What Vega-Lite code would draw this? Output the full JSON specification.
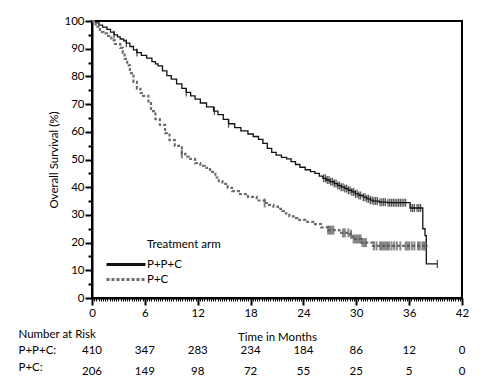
{
  "$schema": "https://vega.github.io/schema/vega-lite/v6.json",
  "background": "white",
  "padding": {"left": 18, "top": 14, "right": 5, "bottom": 0},
  "spacing": 36,
  "bounds": "flush",
  "config": {
    "font": "Lato",
    "view": {"stroke": null},
    "axis": {"labelColor": "black", "titleColor": "black", "labelFontSize": 11.5, "titleFontSize": 11.5, "titleFontWeight": "normal", "grid": false, "labelOverlap": false, "labelFlush": false, "labelFont": "Lato", "titleFont": "Lato"},
    "legend": {"labelColor": "black", "titleColor": "black"}
  },
  "datasets": {
    "curve": [
      {"arm": "P+P+C", "month": 0, "surv": 100}, {"arm": "P+P+C", "month": 0.4, "surv": 99.3}, {"arm": "P+P+C", "month": 0.8, "surv": 98.5}, {"arm": "P+P+C", "month": 1.2, "surv": 97.8}, {"arm": "P+P+C", "month": 1.7, "surv": 97}, {"arm": "P+P+C", "month": 2.1, "surv": 96}, {"arm": "P+P+C", "month": 2.5, "surv": 95}, {"arm": "P+P+C", "month": 2.9, "surv": 94.3}, {"arm": "P+P+C", "month": 3.2, "surv": 93.5}, {"arm": "P+P+C", "month": 3.6, "surv": 92.8}, {"arm": "P+P+C", "month": 3.9, "surv": 92}, {"arm": "P+P+C", "month": 4.3, "surv": 90.8}, {"arm": "P+P+C", "month": 4.7, "surv": 89.6}, {"arm": "P+P+C", "month": 5.1, "surv": 88.6}, {"arm": "P+P+C", "month": 5.6, "surv": 87.6}, {"arm": "P+P+C", "month": 6.2, "surv": 86.6}, {"arm": "P+P+C", "month": 6.8, "surv": 85.3}, {"arm": "P+P+C", "month": 7.2, "surv": 84.5}, {"arm": "P+P+C", "month": 7.5, "surv": 83.8}, {"arm": "P+P+C", "month": 8.0, "surv": 82}, {"arm": "P+P+C", "month": 8.5, "surv": 80.3}, {"arm": "P+P+C", "month": 9.0, "surv": 79}, {"arm": "P+P+C", "month": 9.6, "surv": 77.3}, {"arm": "P+P+C", "month": 10.2, "surv": 75.7}, {"arm": "P+P+C", "month": 10.7, "surv": 74.2}, {"arm": "P+P+C", "month": 11.2, "surv": 73}, {"arm": "P+P+C", "month": 11.7, "surv": 71.8}, {"arm": "P+P+C", "month": 12.3, "surv": 70.4}, {"arm": "P+P+C", "month": 13.0, "surv": 69}, {"arm": "P+P+C", "month": 13.8, "surv": 67.5}, {"arm": "P+P+C", "month": 14.3, "surv": 66.2}, {"arm": "P+P+C", "month": 14.9, "surv": 64.5}, {"arm": "P+P+C", "month": 15.5, "surv": 62.9}, {"arm": "P+P+C", "month": 16.2, "surv": 61.5}, {"arm": "P+P+C", "month": 16.9, "surv": 60.3}, {"arm": "P+P+C", "month": 17.7, "surv": 59.2}, {"arm": "P+P+C", "month": 18.3, "surv": 58.3}, {"arm": "P+P+C", "month": 18.9, "surv": 57.3}, {"arm": "P+P+C", "month": 19.4, "surv": 55.8}, {"arm": "P+P+C", "month": 19.9, "surv": 54}, {"arm": "P+P+C", "month": 20.4, "surv": 52.6}, {"arm": "P+P+C", "month": 20.9, "surv": 51.6}, {"arm": "P+P+C", "month": 21.5, "surv": 50.8}, {"arm": "P+P+C", "month": 22.1, "surv": 50.2}, {"arm": "P+P+C", "month": 22.6, "surv": 49.2}, {"arm": "P+P+C", "month": 23.1, "surv": 48.2}, {"arm": "P+P+C", "month": 23.6, "surv": 47.2}, {"arm": "P+P+C", "month": 24.2, "surv": 46.3}, {"arm": "P+P+C", "month": 24.8, "surv": 45.6}, {"arm": "P+P+C", "month": 25.3, "surv": 45}, {"arm": "P+P+C", "month": 25.8, "surv": 44}, {"arm": "P+P+C", "month": 26.2, "surv": 43.2}, {"arm": "P+P+C", "month": 26.6, "surv": 42.6}, {"arm": "P+P+C", "month": 27.0, "surv": 42}, {"arm": "P+P+C", "month": 27.5, "surv": 41.3}, {"arm": "P+P+C", "month": 27.9, "surv": 40.6}, {"arm": "P+P+C", "month": 28.3, "surv": 40}, {"arm": "P+P+C", "month": 28.7, "surv": 39.5}, {"arm": "P+P+C", "month": 29.1, "surv": 38.9}, {"arm": "P+P+C", "month": 29.5, "surv": 38.3}, {"arm": "P+P+C", "month": 29.9, "surv": 37.6}, {"arm": "P+P+C", "month": 30.3, "surv": 37}, {"arm": "P+P+C", "month": 30.8, "surv": 36.4}, {"arm": "P+P+C", "month": 31.2, "surv": 35.8}, {"arm": "P+P+C", "month": 31.6, "surv": 35.3}, {"arm": "P+P+C", "month": 31.9, "surv": 35}, {"arm": "P+P+C", "month": 32.6, "surv": 34.6}, {"arm": "P+P+C", "month": 33.5, "surv": 34.4}, {"arm": "P+P+C", "month": 36.1, "surv": 32.5}, {"arm": "P+P+C", "month": 37.55, "surv": 25}, {"arm": "P+P+C", "month": 37.8, "surv": 22.5}, {"arm": "P+P+C", "month": 37.95, "surv": 12.3}, {"arm": "P+P+C", "month": 39.2, "surv": 12.3},
      {"arm": "P+C", "month": 0, "surv": 100}, {"arm": "P+C", "month": 0.4, "surv": 98}, {"arm": "P+C", "month": 0.9, "surv": 96}, {"arm": "P+C", "month": 1.3, "surv": 95.5}, {"arm": "P+C", "month": 1.7, "surv": 94.6}, {"arm": "P+C", "month": 2.2, "surv": 93}, {"arm": "P+C", "month": 2.6, "surv": 91.7}, {"arm": "P+C", "month": 3.2, "surv": 90.3}, {"arm": "P+C", "month": 3.5, "surv": 88.5}, {"arm": "P+C", "month": 3.7, "surv": 86.3}, {"arm": "P+C", "month": 4.0, "surv": 84}, {"arm": "P+C", "month": 4.3, "surv": 81.2}, {"arm": "P+C", "month": 4.7, "surv": 78}, {"arm": "P+C", "month": 5.1, "surv": 75.5}, {"arm": "P+C", "month": 5.5, "surv": 74}, {"arm": "P+C", "month": 5.8, "surv": 73}, {"arm": "P+C", "month": 6.4, "surv": 71}, {"arm": "P+C", "month": 6.7, "surv": 67.5}, {"arm": "P+C", "month": 7.2, "surv": 64.6}, {"arm": "P+C", "month": 7.7, "surv": 62.5}, {"arm": "P+C", "month": 8.3, "surv": 59.5}, {"arm": "P+C", "month": 8.8, "surv": 57}, {"arm": "P+C", "month": 9.4, "surv": 54.9}, {"arm": "P+C", "month": 10.2, "surv": 52}, {"arm": "P+C", "month": 10.6, "surv": 51}, {"arm": "P+C", "month": 11.0, "surv": 50.2}, {"arm": "P+C", "month": 11.7, "surv": 48.7}, {"arm": "P+C", "month": 12.3, "surv": 47.7}, {"arm": "P+C", "month": 12.8, "surv": 47}, {"arm": "P+C", "month": 13.4, "surv": 45.5}, {"arm": "P+C", "month": 14.0, "surv": 43.5}, {"arm": "P+C", "month": 14.4, "surv": 42.2}, {"arm": "P+C", "month": 14.8, "surv": 41.2}, {"arm": "P+C", "month": 15.4, "surv": 39.8}, {"arm": "P+C", "month": 15.9, "surv": 38.6}, {"arm": "P+C", "month": 16.8, "surv": 37.5}, {"arm": "P+C", "month": 17.7, "surv": 36.5}, {"arm": "P+C", "month": 18.7, "surv": 35.2}, {"arm": "P+C", "month": 19.6, "surv": 34.3}, {"arm": "P+C", "month": 20.1, "surv": 33.6}, {"arm": "P+C", "month": 20.6, "surv": 33}, {"arm": "P+C", "month": 21.1, "surv": 32.2}, {"arm": "P+C", "month": 21.6, "surv": 31.4}, {"arm": "P+C", "month": 22.0, "surv": 30.5}, {"arm": "P+C", "month": 22.4, "surv": 29.5}, {"arm": "P+C", "month": 22.9, "surv": 28.8}, {"arm": "P+C", "month": 23.3, "surv": 28.2}, {"arm": "P+C", "month": 24.2, "surv": 27.5}, {"arm": "P+C", "month": 25.1, "surv": 26.7}, {"arm": "P+C", "month": 26.0, "surv": 25.5}, {"arm": "P+C", "month": 26.8, "surv": 24.5}, {"arm": "P+C", "month": 28.1, "surv": 23.5}, {"arm": "P+C", "month": 29.3, "surv": 23}, {"arm": "P+C", "month": 29.6, "surv": 21.3}, {"arm": "P+C", "month": 30.6, "surv": 20}, {"arm": "P+C", "month": 31.9, "surv": 18.8}, {"arm": "P+C", "month": 38.1, "surv": 18.8}
    ],
    "censor": [
      {"arm": "P+P+C", "month": 2.5, "surv": 95}, {"arm": "P+P+C", "month": 3.9, "surv": 92}, {"arm": "P+P+C", "month": 5.1, "surv": 88.6}, {"arm": "P+P+C", "month": 10.7, "surv": 74.2}, {"arm": "P+P+C", "month": 13.9, "surv": 67.5}, {"arm": "P+P+C", "month": 15.5, "surv": 62.9},
      {"arm": "P+P+C", "month": 26.3, "surv": 43.2}, {"arm": "P+P+C", "month": 26.5, "surv": 43.2}, {"arm": "P+P+C", "month": 26.7, "surv": 42.6}, {"arm": "P+P+C", "month": 26.9, "surv": 42.6}, {"arm": "P+P+C", "month": 27.1, "surv": 42}, {"arm": "P+P+C", "month": 27.3, "surv": 42}, {"arm": "P+P+C", "month": 27.5, "surv": 41.3}, {"arm": "P+P+C", "month": 27.7, "surv": 41.3}, {"arm": "P+P+C", "month": 27.9, "surv": 40.6}, {"arm": "P+P+C", "month": 28.1, "surv": 40.6}, {"arm": "P+P+C", "month": 28.3, "surv": 40}, {"arm": "P+P+C", "month": 28.5, "surv": 40}, {"arm": "P+P+C", "month": 28.7, "surv": 39.5}, {"arm": "P+P+C", "month": 28.9, "surv": 39.5}, {"arm": "P+P+C", "month": 29.1, "surv": 38.9}, {"arm": "P+P+C", "month": 29.3, "surv": 38.9}, {"arm": "P+P+C", "month": 29.5, "surv": 38.3}, {"arm": "P+P+C", "month": 29.7, "surv": 38.3}, {"arm": "P+P+C", "month": 29.9, "surv": 37.6}, {"arm": "P+P+C", "month": 30.1, "surv": 37.6}, {"arm": "P+P+C", "month": 30.3, "surv": 37}, {"arm": "P+P+C", "month": 30.5, "surv": 37}, {"arm": "P+P+C", "month": 30.8, "surv": 36.4}, {"arm": "P+P+C", "month": 31.0, "surv": 36.4}, {"arm": "P+P+C", "month": 31.2, "surv": 35.8}, {"arm": "P+P+C", "month": 31.4, "surv": 35.8}, {"arm": "P+P+C", "month": 31.6, "surv": 35.3}, {"arm": "P+P+C", "month": 31.8, "surv": 35.3}, {"arm": "P+P+C", "month": 32.0, "surv": 35}, {"arm": "P+P+C", "month": 32.2, "surv": 35}, {"arm": "P+P+C", "month": 32.4, "surv": 35}, {"arm": "P+P+C", "month": 32.7, "surv": 34.6}, {"arm": "P+P+C", "month": 32.9, "surv": 34.6}, {"arm": "P+P+C", "month": 33.1, "surv": 34.6}, {"arm": "P+P+C", "month": 33.3, "surv": 34.6}, {"arm": "P+P+C", "month": 33.6, "surv": 34.4}, {"arm": "P+P+C", "month": 33.8, "surv": 34.4}, {"arm": "P+P+C", "month": 34.0, "surv": 34.4}, {"arm": "P+P+C", "month": 34.2, "surv": 34.4}, {"arm": "P+P+C", "month": 34.4, "surv": 34.4}, {"arm": "P+P+C", "month": 34.6, "surv": 34.4}, {"arm": "P+P+C", "month": 34.8, "surv": 34.4}, {"arm": "P+P+C", "month": 35.0, "surv": 34.4}, {"arm": "P+P+C", "month": 35.2, "surv": 34.4}, {"arm": "P+P+C", "month": 35.4, "surv": 34.4}, {"arm": "P+P+C", "month": 35.6, "surv": 34.4},
      {"arm": "P+P+C", "month": 36.2, "surv": 32.5}, {"arm": "P+P+C", "month": 36.4, "surv": 32.5}, {"arm": "P+P+C", "month": 36.6, "surv": 32.5}, {"arm": "P+P+C", "month": 36.9, "surv": 32.5}, {"arm": "P+P+C", "month": 37.1, "surv": 32.5}, {"arm": "P+P+C", "month": 37.3, "surv": 32.5}, {"arm": "P+P+C", "month": 39.2, "surv": 12.3},
      {"arm": "P+C", "month": 10.2, "surv": 52}, {"arm": "P+C", "month": 19.6, "surv": 34.3}, {"arm": "P+C", "month": 26.8, "surv": 24.5}, {"arm": "P+C", "month": 27.0, "surv": 24.5}, {"arm": "P+C", "month": 27.2, "surv": 24.5}, {"arm": "P+C", "month": 27.4, "surv": 24.5}, {"arm": "P+C", "month": 28.5, "surv": 23.5}, {"arm": "P+C", "month": 28.7, "surv": 23.5}, {"arm": "P+C", "month": 29.1, "surv": 23.5}, {"arm": "P+C", "month": 29.4, "surv": 23}, {"arm": "P+C", "month": 29.7, "surv": 21.3}, {"arm": "P+C", "month": 29.9, "surv": 21.3}, {"arm": "P+C", "month": 30.1, "surv": 21.3}, {"arm": "P+C", "month": 30.3, "surv": 21.3}, {"arm": "P+C", "month": 30.5, "surv": 21.3}, {"arm": "P+C", "month": 30.7, "surv": 20}, {"arm": "P+C", "month": 30.9, "surv": 20}, {"arm": "P+C", "month": 31.1, "surv": 20}, {"arm": "P+C", "month": 32.0, "surv": 18.8}, {"arm": "P+C", "month": 32.3, "surv": 18.8}, {"arm": "P+C", "month": 32.7, "surv": 18.8}, {"arm": "P+C", "month": 32.9, "surv": 18.8}, {"arm": "P+C", "month": 33.1, "surv": 18.8}, {"arm": "P+C", "month": 33.3, "surv": 18.8}, {"arm": "P+C", "month": 33.5, "surv": 18.8}, {"arm": "P+C", "month": 33.7, "surv": 18.8}, {"arm": "P+C", "month": 34.0, "surv": 18.8}, {"arm": "P+C", "month": 34.3, "surv": 18.8}, {"arm": "P+C", "month": 34.6, "surv": 18.8}, {"arm": "P+C", "month": 35.0, "surv": 18.8}, {"arm": "P+C", "month": 35.6, "surv": 18.8}, {"arm": "P+C", "month": 35.8, "surv": 18.8}, {"arm": "P+C", "month": 36.0, "surv": 18.8}, {"arm": "P+C", "month": 36.3, "surv": 18.8}, {"arm": "P+C", "month": 36.6, "surv": 18.8}, {"arm": "P+C", "month": 37.0, "surv": 18.8}, {"arm": "P+C", "month": 37.2, "surv": 18.8}, {"arm": "P+C", "month": 37.5, "surv": 18.8}, {"arm": "P+C", "month": 37.7, "surv": 18.8}, {"arm": "P+C", "month": 37.9, "surv": 18.8}
    ],
    "risk": [
      {"arm": "P+P+C", "month": 0, "n": 410}, {"arm": "P+P+C", "month": 6, "n": 347}, {"arm": "P+P+C", "month": 12, "n": 283}, {"arm": "P+P+C", "month": 18, "n": 234}, {"arm": "P+P+C", "month": 24, "n": 184}, {"arm": "P+P+C", "month": 30, "n": 86}, {"arm": "P+P+C", "month": 36, "n": 12}, {"arm": "P+P+C", "month": 42, "n": 0},
      {"arm": "P+C", "month": 0, "n": 206}, {"arm": "P+C", "month": 6, "n": 149}, {"arm": "P+C", "month": 12, "n": 98}, {"arm": "P+C", "month": 18, "n": 72}, {"arm": "P+C", "month": 24, "n": 55}, {"arm": "P+C", "month": 30, "n": 25}, {"arm": "P+C", "month": 36, "n": 5}, {"arm": "P+C", "month": 42, "n": 0}
    ]
  },
  "vconcat": [
    {
      "width": 370,
      "height": 277,
      "view": {"stroke": "black", "strokeWidth": 2},
      "resolve": {"axis": {"x": "independent", "y": "independent"}},
      "layer": [
        {
          "data": {"name": "curve"},
          "transform": [{"filter": "datum.arm === 'P+P+C'"}],
          "mark": {"type": "line", "interpolate": "step-after", "strokeWidth": 1.3},
          "encoding": {
            "x": {"field": "month", "type": "quantitative", "title": "Time in Months",
              "scale": {"domain": [0, 42], "nice": false},
              "axis": {"orient": "bottom", "values": [0, 6, 12, 18, 24, 30, 36, 42], "tickSize": 7, "tickWidth": 2, "tickColor": "black",
                "domainColor": "black", "domainWidth": 2, "labelPadding": 2, "titlePadding": 13}
            },
            "y": {"field": "surv", "type": "quantitative", "title": "Overall Survival (%)",
              "scale": {"domain": [0, 100], "nice": false},
              "axis": {"orient": "left", "values": [0, 10, 20, 30, 40, 50, 60, 70, 80, 90, 100], "tickSize": 7, "tickWidth": 2, "tickColor": "black",
                "domainColor": "black", "domainWidth": 2, "labelPadding": 1, "titlePadding": 4}
            },
            "color": {"field": "arm", "type": "nominal",
              "scale": {"domain": ["P+P+C", "P+C"], "range": ["#111111", "#6e6e6e"]},
              "legend": {
                "orient": "none", "legendX": 25, "legendY": 218,
                "title": "Treatment arm", "titleFontWeight": "normal", "titleFontSize": 11.5, "titleFont": "Lato",
                "labelFontSize": 11.5, "labelFont": "Lato",
                "symbolType": "M-2.6,0H2.6", "symbolSize": 225, "symbolStrokeWidth": 3,
                "labelOffset": 12, "rowPadding": -2, "titlePadding": 5, "padding": 0,
                "encode": {"title": {"update": {"dx": {"value": 30}}}}
              }
            },
            "strokeDash": {"field": "arm", "type": "nominal",
              "scale": {"domain": ["P+P+C", "P+C"], "range": [[1, 0], [3, 2]]}}
          }
        },
        {
          "data": {"name": "curve"},
          "transform": [{"filter": "datum.arm === 'P+C'"}],
          "mark": {"type": "line", "interpolate": "step-after", "strokeWidth": 2.2},
          "encoding": {
            "x": {"field": "month", "type": "quantitative", "axis": null},
            "y": {"field": "surv", "type": "quantitative", "axis": null},
            "color": {"field": "arm", "type": "nominal"},
            "strokeDash": {"field": "arm", "type": "nominal"}
          }
        },
        {
          "data": {"name": "censor"},
          "transform": [{"filter": "datum.arm === 'P+P+C'"}],
          "mark": {"type": "tick", "orient": "vertical", "color": "#111111", "size": 8, "thickness": 1.3},
          "encoding": {
            "x": {"field": "month", "type": "quantitative",
              "axis": {"orient": "bottom", "title": null, "labels": false, "domain": false, "tickSize": 3, "tickWidth": 1, "tickColor": "black",
                "values": [0,0.25,0.5,0.75,1,1.25,1.5,1.75,2,2.25,2.5,2.75,3,3.25,3.5,3.75,4,4.25,4.5,4.75,5,5.25,5.5,5.75,6,6.25,6.5,6.75,7,7.25,7.5,7.75,8,8.25,8.5,8.75,9,9.25,9.5,9.75,10,10.25,10.5,10.75,11,11.25,11.5,11.75,12,12.25,12.5,12.75,13,13.25,13.5,13.75,14,14.25,14.5,14.75,15,15.25,15.5,15.75,16,16.25,16.5,16.75,17,17.25,17.5,17.75,18,18.25,18.5,18.75,19,19.25,19.5,19.75,20,20.25,20.5,20.75,21,21.25,21.5,21.75,22,22.25,22.5,22.75,23,23.25,23.5,23.75,24,24.25,24.5,24.75,25,25.25,25.5,25.75,26,26.25,26.5,26.75,27,27.25,27.5,27.75,28,28.25,28.5,28.75,29,29.25,29.5,29.75,30,30.25,30.5,30.75,31,31.25,31.5,31.75,32,32.25,32.5,32.75,33,33.25,33.5,33.75,34,34.25,34.5,34.75,35,35.25,35.5,35.75,36,36.25,36.5,36.75,37,37.25,37.5,37.75,38,38.25,38.5,38.75,39,39.25,39.5,39.75,40,40.25,40.5,40.75,41,41.25,41.5,41.75,42]}},
            "y": {"field": "surv", "type": "quantitative",
              "axis": {"orient": "left", "title": null, "labels": false, "domain": false, "tickSize": 4, "tickWidth": 2, "tickColor": "black",
                "values": [5, 15, 25, 35, 45, 55, 65, 75, 85, 95]}}
          }
        },
        {
          "data": {"name": "censor"},
          "transform": [{"filter": "datum.arm === 'P+C'"}],
          "mark": {"type": "tick", "orient": "vertical", "color": "#555555", "size": 9, "thickness": 2},
          "encoding": {
            "x": {"field": "month", "type": "quantitative", "axis": null},
            "y": {"field": "surv", "type": "quantitative", "axis": null}
          }
        }
      ]
    },
    {
      "width": 370,
      "height": 33,
      "data": {"name": "risk"},
      "layer": [
        {
          "transform": [{"filter": "datum.arm === 'P+P+C'"}],
          "mark": {"type": "text", "fontSize": 11.5, "font": "Lato", "color": "black"},
          "encoding": {
            "x": {"field": "month", "type": "quantitative", "scale": {"domain": [0, 42], "nice": false}, "axis": null},
            "y": {"field": "arm", "type": "nominal",
              "scale": {"type": "point", "domain": ["Number at Risk", "P+P+C", "P+C"], "padding": 0},
              "axis": {"title": null, "domain": false, "ticks": false, "tickSize": 0, "labelAlign": "left", "labelPadding": 74,
                "labelExpr": "datum.label === 'Number at Risk' ? datum.label : datum.label + ':'"}},
            "text": {"field": "n", "type": "quantitative"}
          }
        },
        {
          "transform": [{"filter": "datum.arm === 'P+C'"}],
          "mark": {"type": "text", "fontSize": 11.5, "font": "Lato", "color": "black", "dy": 5},
          "encoding": {
            "x": {"field": "month", "type": "quantitative"},
            "y": {"field": "arm", "type": "nominal"},
            "text": {"field": "n", "type": "quantitative"}
          }
        }
      ]
    }
  ]
}
